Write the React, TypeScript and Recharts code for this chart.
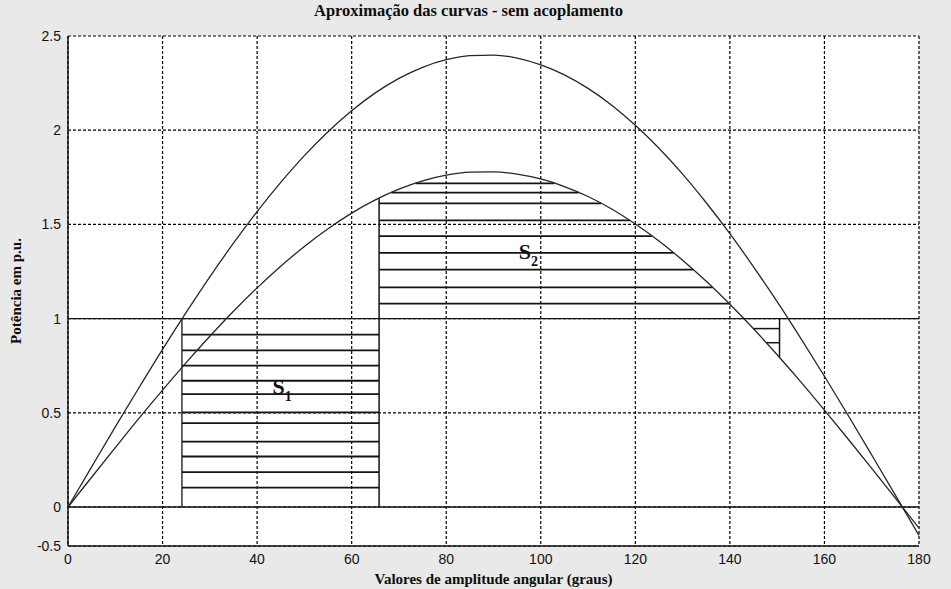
import React from 'react';
import { ComposedChart, Line, XAxis, YAxis, CartesianGrid, ReferenceLine, ReferenceDot } from 'recharts';

// angles in degrees and the two approximated power curves (p.u.)
const angles = [0, 5, 10, 15, 20, 25, 30, 35, 40, 45, 50, 55, 60, 65, 70, 75, 80, 85, 90,
  95, 100, 105, 110, 115, 120, 125, 130, 135, 140, 145, 150, 155, 160, 165, 170, 175, 180];
const upperCurve = [0, 0.213, 0.425, 0.633, 0.837, 1.033, 1.222, 1.4, 1.568, 1.723, 1.865, 1.992, 2.103,
  2.198, 2.275, 2.334, 2.374, 2.396, 2.399, 2.383, 2.347, 2.294, 2.222, 2.133, 2.026, 1.904, 1.767,
  1.615, 1.451, 1.275, 1.09, 0.895, 0.694, 0.487, 0.276, 0.063, -0.151];
const lowerCurve = [0, 0.158, 0.315, 0.47, 0.62, 0.766, 0.906, 1.039, 1.163, 1.278, 1.383, 1.477, 1.56,
  1.63, 1.687, 1.731, 1.761, 1.777, 1.779, 1.767, 1.741, 1.701, 1.648, 1.582, 1.502, 1.412, 1.31,
  1.198, 1.076, 0.946, 0.808, 0.664, 0.514, 0.361, 0.205, 0.047, -0.112];

const xTicks = [0, 20, 40, 60, 80, 100, 120, 140, 160, 180];
const yTicks = [0, 0.5, 1, 1.5, 2, 2.5];
// the printed axis stops just below zero but its bottom tick reads -0.5
const yFloor = -0.207;
const yFloorLabel = '-0.5';

// area S1 (rectangle under P = 1)
const s1Left = 24.1;
const s1Right = 65.8;
const mechPower = 1;
const s1Hatch = [0.103, 0.185, 0.268, 0.347, 0.445, 0.502, 0.599, 0.67, 0.75, 0.831, 0.915];
// area S2 (between P = 1 and the lower curve)
const s2Hatch = [1.08, 1.166, 1.26, 1.349, 1.438, 1.521, 1.612, 1.669, 1.718];
// small area after the lower curve drops below P = 1
const s3Right = 150.5;
const s3Hatch = [0.872, 0.947];

const s1LabelPos = { x: 45.3, y: 0.6 };
const s2LabelPos = { x: 97.4, y: 1.315 };

const chartData = angles.map((a, i) => ({ angle: a, upper: upperCurve[i], lower: lowerCurve[i] }));

const lowerAt = (x: number) => {
  for (let i = 0; i < angles.length - 1; i++) {
    if (x >= angles[i] && x <= angles[i + 1]) {
      const t = (x - angles[i]) / (angles[i + 1] - angles[i]);
      return lowerCurve[i] + t * (lowerCurve[i + 1] - lowerCurve[i]);
    }
  }
  return 0;
};

// x where the lower curve passes y, searched inside [from, to]
const lowerCross = (y: number, from: number, to: number) => {
  for (let i = 0; i < angles.length - 1; i++) {
    const a = angles[i], b = angles[i + 1];
    if (b < from || a > to) continue;
    const ya = lowerCurve[i], yb = lowerCurve[i + 1];
    if ((ya - y) * (yb - y) <= 0 && ya !== yb) {
      const x = a + ((y - ya) / (yb - ya)) * (b - a);
      if (x >= from && x <= to) return x;
    }
  }
  return null;
};

const ink = '#141414';
const serif = '"Liberation Serif", "DejaVu Serif", serif';
const sans = '"Liberation Sans", Arial, sans-serif';

const areaLabel = (sub: string) => (p: any) => (
  <text x={p.cx} y={p.cy} fontFamily={serif} fontWeight="bold" fill="#111" textAnchor="middle">
    <tspan fontSize={22}>S</tspan>
    <tspan fontSize={14} dy={7}>{sub}</tspan>
  </text>
);

export default function App() {
  const segs: { x1: number; y1: number; x2: number; y2: number; w: number }[] = [];
  s1Hatch.forEach((y) => segs.push({ x1: s1Left, y1: y, x2: s1Right, y2: y, w: 1.8 }));
  s2Hatch.forEach((y) => {
    const left = lowerAt(s1Right) >= y ? s1Right : (lowerCross(y, s1Right, 88) ?? s1Right);
    const right = lowerCross(y, 88, 180) ?? s1Right;
    segs.push({ x1: left, y1: y, x2: right, y2: y, w: 1.8 });
  });
  s3Hatch.forEach((y) => {
    const left = lowerCross(y, 100, 180) ?? s3Right;
    segs.push({ x1: left, y1: y, x2: s3Right, y2: y, w: 1.5 });
  });
  segs.push({ x1: s1Left, y1: 0, x2: s1Left, y2: mechPower, w: 1.3 });
  segs.push({ x1: s1Right, y1: 0, x2: s1Right, y2: lowerAt(s1Right), w: 1.5 });
  segs.push({ x1: s3Right, y1: mechPower, x2: s3Right, y2: lowerAt(s3Right), w: 1.5 });

  return (
    <div style={{ position: 'absolute', left: 0, top: 0, width: 951, height: 589, background: '#e9e9e9' }}>
      <div style={{ position: 'absolute', left: 0, width: 937, top: 1, textAlign: 'center', fontFamily: serif, fontWeight: 'bold', fontSize: 16.5, color: '#0d0d0d' }}>
        Aproximação das curvas - sem acoplamento
      </div>
      <ComposedChart width={951} height={589} data={chartData} margin={{ top: 36, right: 32, bottom: 0, left: 0 }}>
        <CartesianGrid fill="#fff" stroke="#000" strokeDasharray="3 2" strokeWidth={1.2} />
        <XAxis
          dataKey="angle"
          type="number"
          domain={[0, 180]}
          ticks={xTicks}
          height={43}
          tickLine={false}
          axisLine={{ stroke: ink, strokeWidth: 1.5 }}
          tick={{ fill: '#111', fontSize: 14, fontFamily: sans }}
          tickMargin={2}
          label={{ value: 'Valores de amplitude angular (graus)', position: 'insideBottom', offset: 5, style: { fontFamily: serif, fontWeight: 'bold', fontSize: 15, fill: '#0d0d0d' } }}
        />
        <YAxis
          type="number"
          domain={[yFloor, 2.5]}
          ticks={[yFloor, ...yTicks]}
          tickFormatter={(v: number) => (v === yFloor ? yFloorLabel : String(v))}
          width={68}
          tickLine={false}
          axisLine={{ stroke: ink, strokeWidth: 1.5 }}
          tick={{ fill: '#111', fontSize: 14, fontFamily: sans }}
          tickMargin={1}
          allowDataOverflow
          label={{ value: 'Potência em p.u.', angle: -90, position: 'insideLeft', offset: 16, style: { textAnchor: 'middle', fontFamily: serif, fontWeight: 'bold', fontSize: 15, fill: '#0d0d0d' } }}
        />
        <ReferenceLine y={0} stroke={ink} strokeWidth={1.4} />
        <ReferenceLine y={mechPower} stroke={ink} strokeWidth={1.1} />
        {segs.map((s, i) => (
          <ReferenceLine key={i} segment={[{ x: s.x1, y: s.y1 }, { x: s.x2, y: s.y2 }]} stroke={ink} strokeWidth={s.w} />
        ))}
        <Line type="monotone" dataKey="upper" stroke="#262626" strokeWidth={1.3} dot={false} isAnimationActive={false} />
        <Line type="monotone" dataKey="lower" stroke="#262626" strokeWidth={1.3} dot={false} isAnimationActive={false} />
        <ReferenceDot x={s1LabelPos.x} y={s1LabelPos.y} r={0} shape={areaLabel('1')} />
        <ReferenceDot x={s2LabelPos.x} y={s2LabelPos.y} r={0} shape={areaLabel('2')} />
      </ComposedChart>
    </div>
  );
}
